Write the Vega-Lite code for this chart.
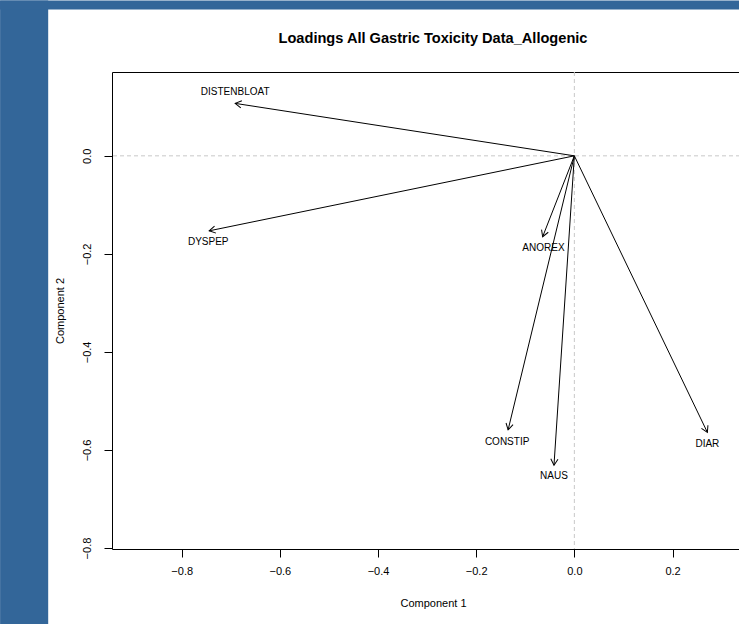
{
  "$schema": "https://vega.github.io/schema/vega-lite/v6.json",
  "autosize": "none",
  "width": 642,
  "height": 477,
  "padding": {"left": 112, "top": 72, "right": 0, "bottom": 75},
  "background": "white",
  "title": {
    "text": "Loadings All Gastric Toxicity Data_Allogenic",
    "font": "Liberation Sans",
    "fontSize": 14.6,
    "fontWeight": "bold",
    "color": "black",
    "anchor": "middle",
    "baseline": "alphabetic",
    "offset": -57.5
  },
  "config": {
    "view": {"stroke": "black", "strokeWidth": 1},
    "axis": {
      "grid": false,
      "domain": false,
      "tickColor": "black",
      "tickSize": 8,
      "labelFont": "Liberation Sans",
      "labelFontSize": 11,
      "labelColor": "black",
      "titleFont": "Liberation Sans",
      "titleFontSize": 11,
      "titleFontWeight": "normal",
      "titleColor": "black"
    }
  },
  "datasets": {
    "bands": [
      {"x1": -1.170, "x2": -1.072, "y1": 0.317, "y2": -0.96},
      {"x1": -1.170, "x2": 0.366, "y1": 0.317, "y2": 0.2986}
    ],
    "loadings": [
      {"name": "DISTENBLOAT", "x": -0.691, "y": 0.107, "lx": -0.691, "ly": 0.131},
      {"name": "DYSPEP", "x": -0.744, "y": -0.153, "lx": -0.746, "ly": -0.176},
      {"name": "ANOREX", "x": -0.0646, "y": -0.165, "lx": -0.063, "ly": -0.187},
      {"name": "CONSTIP", "x": -0.135, "y": -0.559, "lx": -0.137, "ly": -0.584},
      {"name": "NAUS", "x": -0.0415, "y": -0.631, "lx": -0.0415, "ly": -0.654},
      {"name": "DIAR", "x": 0.271, "y": -0.564, "lx": 0.271, "ly": -0.587}
    ]
  },
  "layer": [
    {
      "data": {"name": "bands"},
      "mark": {"type": "rect", "fill": "#336699", "clip": false},
      "encoding": {
        "x": {
          "field": "x1", "type": "quantitative",
          "scale": {"domain": [-0.942, 0.366], "nice": false, "zero": false},
          "axis": {"values": [-0.8, -0.6, -0.4, -0.2, 0, 0.2], "format": ".1f", "title": "Component 1", "labelPadding": 8, "titlePadding": 21}
        },
        "x2": {"field": "x2"},
        "y": {
          "field": "y1", "type": "quantitative",
          "scale": {"domain": [-0.802, 0.171], "nice": false, "zero": false},
          "axis": {"values": [-0.8, -0.6, -0.4, -0.2, 0], "format": ".1f", "title": "Component 2", "labelAngle": -90, "labelAlign": "center", "labelBaseline": "bottom", "labelPadding": 12, "titlePadding": 16}
        },
        "y2": {"field": "y2"}
      }
    },
    {
      "data": {"values": [{"v": 0}]},
      "mark": {"type": "rule", "color": "#c8c8c8", "strokeDash": [4, 3], "strokeWidth": 1},
      "encoding": {"x": {"field": "v", "type": "quantitative"}}
    },
    {
      "data": {"values": [{"v": 0}]},
      "mark": {"type": "rule", "color": "#c8c8c8", "strokeDash": [4, 3], "strokeWidth": 1},
      "encoding": {"y": {"field": "v", "type": "quantitative"}}
    },
    {
      "data": {"name": "loadings"},
      "mark": {"type": "rule", "color": "black", "strokeWidth": 1},
      "encoding": {
        "x": {"field": "x", "type": "quantitative"},
        "y": {"field": "y", "type": "quantitative"},
        "x2": {"datum": 0},
        "y2": {"datum": 0}
      }
    },
    {
      "data": {"name": "loadings"},
      "transform": [{"calculate": "atan2(-datum.y, datum.x) * 180 / PI", "as": "ang"}],
      "mark": {"type": "point", "shape": "M -1 -0.58 L 0 0 L -1 0.58", "filled": false, "stroke": "black", "strokeWidth": 1, "size": 154, "opacity": 1},
      "encoding": {
        "x": {"field": "x", "type": "quantitative"},
        "y": {"field": "y", "type": "quantitative"},
        "angle": {"field": "ang", "type": "quantitative", "scale": null}
      }
    },
    {
      "data": {"name": "loadings"},
      "mark": {"type": "text", "font": "Liberation Sans", "fontSize": 10, "color": "black", "align": "center", "baseline": "middle"},
      "encoding": {
        "x": {"field": "lx", "type": "quantitative"},
        "y": {"field": "ly", "type": "quantitative"},
        "text": {"field": "name"}
      }
    }
  ]
}
